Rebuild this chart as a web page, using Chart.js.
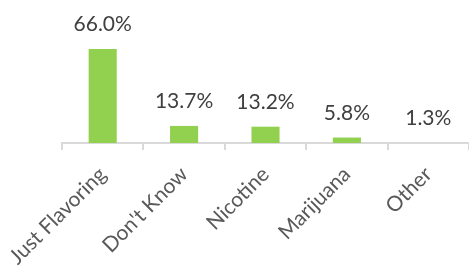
<!DOCTYPE html>
<html>
<head>
<meta charset="utf-8">
<script src="https://cdn.jsdelivr.net/npm/chart.js@4/dist/chart.umd.min.js"></script>
<style>
  html, body { margin: 0; padding: 0; background: #ffffff; }
  #chart { display: block; }
</style>
</head>
<body>
<canvas id="chart" width="469" height="268"></canvas>
<script>
var categories = ['Just Flavoring', "Don't Know", 'Nicotine', 'Marijuana', 'Other'];
var shares = [66.0, 13.7, 13.2, 5.8, 1.3];
var shareLabels = ['66.0%', '13.7%', '13.2%', '5.8%', '1.3%'];

// data labels above each bar
var barLabels = {
  id: 'barLabels',
  afterDatasetsDraw: function (chart) {
    var ctx = chart.ctx;
    var bottom = chart.chartArea.bottom;
    ctx.save();
    ctx.font = '21px Lato';
    ctx.fillStyle = '#404040';
    ctx.textAlign = 'center';
    ctx.textBaseline = 'alphabetic';
    chart.getDatasetMeta(0).data.forEach(function (bar, i) {
      var top = Math.min(bar.y, bottom);
      ctx.fillText(shareLabels[i], bar.x, top - 18);
    });
    ctx.restore();
  }
};

new Chart(document.getElementById('chart').getContext('2d'), {
  type: 'bar',
  data: {
    labels: categories,
    datasets: [{
      data: shares,
      backgroundColor: '#92D050',
      barPercentage: 0.69,
      categoryPercentage: 0.5
    }]
  },
  options: {
    responsive: false,
    animation: false,
    devicePixelRatio: 1,
    layout: { padding: { left: 62, right: 0, top: 0, bottom: 0 } },
    plugins: {
      legend: { display: false },
      tooltip: { enabled: false }
    },
    scales: {
      x: {
        grid: {
          offset: true,
          drawOnChartArea: false,
          drawTicks: true,
          tickLength: 7,
          color: '#d9d9d9',
          lineWidth: 2
        },
        border: { display: true, color: '#d9d9d9', width: 2 },
        ticks: {
          autoSkip: false,
          minRotation: 45,
          maxRotation: 45,
          padding: 12,
          color: '#595959',
          font: { family: 'Lato', size: 21 }
        },
        afterFit: function (scale) {
          scale.height = 125;
          scale.paddingLeft = 0;
          scale.paddingRight = 0;
        }
      },
      y: {
        display: false,
        min: 2.1,
        max: 99.3
      }
    }
  },
  plugins: [barLabels]
});
</script>
</body>
</html>
